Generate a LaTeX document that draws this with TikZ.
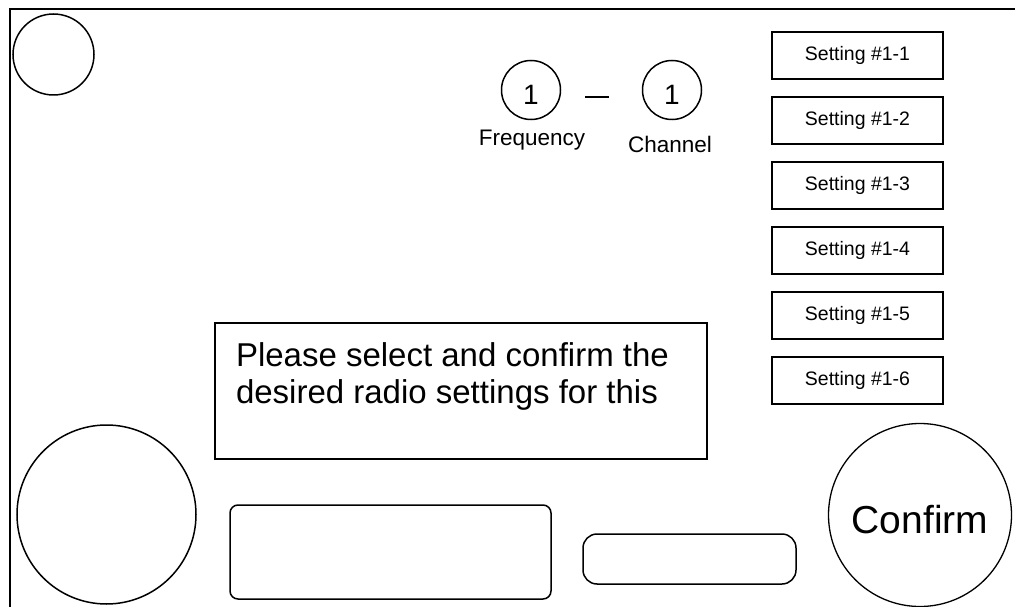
\documentclass[tikz,border=0pt]{standalone}
\usepackage{fontspec}
\setmainfont{Liberation Sans}
\begin{document}
\begin{tikzpicture}[x=1pt,y=-1pt,line width=1.5pt,
  every node/.style={inner sep=0pt,outer sep=0pt},
  knob/.style={draw,circle},
  digit/.style={knob,minimum size=59pt,font=\fontsize{28}{30}\selectfont,text height=30pt,text depth=0pt},
  label/.style={anchor=base,font=\fontsize{22.5}{26}\selectfont},
  setbox/.style={draw,rectangle,line width=1.3pt,minimum width=171pt,minimum height=47pt,font=\fontsize{19.5}{22}\selectfont},
  msgline/.style={anchor=base west,font=\fontsize{33}{38}\selectfont},
  panel/.style={draw,rectangle,rounded corners=#1}]
\useasboundingbox (0,0) rectangle (1015,607);
% frame
\draw[line width=2pt] (10,607) -- (10,9) -- (1015,9);
% top-left knob
\node[knob,minimum size=81pt] (tl) at (53.5,54.5) {};
% frequency / channel
\node[digit] (freq) at (531,90) {1};
\node[digit] (chan) at (672,90) {1};
\draw[line width=2pt] (585,97) -- (609,97);
\node[label] (freqlbl) at (532,146) {Frequency};
\node[label] (chanlbl) at (670,153) {Channel};
% settings
\foreach \i in {1,...,6}{
  \node[setbox] (set\i) at (857.5,{55.5+65*(\i-1)}) {Setting \#1-\i};
}
% message box
\node[draw,rectangle,minimum width=492pt,minimum height=136pt,anchor=north west] (msg) at (215,323) {};
\node[msgline] (msg1) at (236,366) {Please select and confirm the};
\node[msgline] (msg2) at (236,403) {desired radio settings for this};
% bottom-left knob
\node[knob,minimum size=179pt] (bl) at (106.5,514.5) {};
% panels
\node[panel=8pt,minimum width=321pt,minimum height=94pt] (big) at (390.5,552) {};
\node[panel=14pt,minimum width=213pt,minimum height=50pt] (small) at (689.5,559) {};
% confirm
\node[knob,line width=1.3pt,minimum size=183pt,font=\fontsize{39}{44}\selectfont,text height=36pt,text depth=0pt] (confirm) at (920,515) {Confirm};
\end{tikzpicture}
\end{document}
